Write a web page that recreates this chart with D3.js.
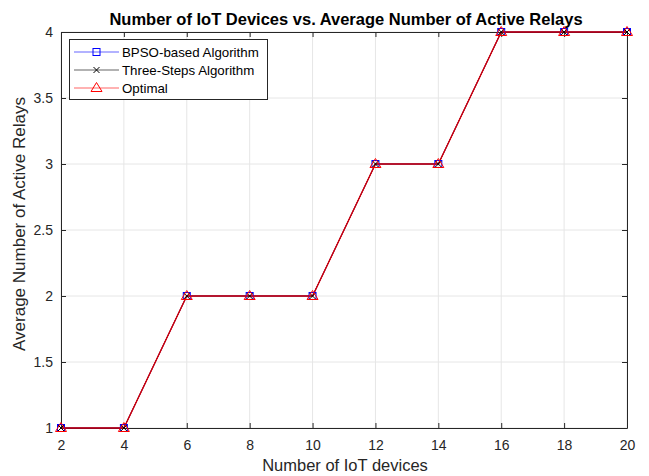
<!DOCTYPE html>
<html><head><meta charset="utf-8">
<script src="https://cdn.jsdelivr.net/npm/d3@7"></script>
<style>body{margin:0;background:#fff}svg{display:block}text{font-family:"Liberation Sans",Arial,sans-serif}</style>
</head><body><svg id="c" width="649" height="476"></svg>
<script>
const devices = [2,4,6,8,10,12,14,16,18,20];
const bpso = [1,1,2,2,2,3,3,4,4,4];
const threeSteps = [1,1,2,2,2,3,3,4,4,4];
const optimal = [1,1,2,2,2,3,3,4,4,4];
const xTicks = [2,4,6,8,10,12,14,16,18,20];
const yTicks = [1,1.5,2,2.5,3,3.5,4];
const seriesNames = ["BPSO-based Algorithm","Three-Steps Algorithm","Optimal"];

const svg = d3.select("#c");
const L=61,R=627,T=32,B=428;
const x = d3.scaleLinear().domain([2,20]).range([L,R]);
const y = d3.scaleLinear().domain([1,4]).range([B,T]);
svg.append("rect").attr("x",0).attr("y",0).attr("width",649).attr("height",476).attr("fill","#fff");
// grid
const g = svg.append("g");
g.selectAll(".gx").data(xTicks).enter().append("line")
 .attr("x1",d=>x(d)).attr("x2",d=>x(d)).attr("y1",T).attr("y2",B).attr("stroke","#e6e6e6");
g.selectAll(".gy").data(yTicks).enter().append("line")
 .attr("y1",d=>y(d)).attr("y2",d=>y(d)).attr("x1",L).attr("x2",R).attr("stroke","#e6e6e6");
// axes
const ax = svg.append("g").attr("transform",`translate(0,${B})`)
 .call(d3.axisBottom(x).tickValues(xTicks).tickSizeInner(-5).tickSizeOuter(0).tickPadding(12));
const ay = svg.append("g").attr("transform",`translate(${L},0)`)
 .call(d3.axisLeft(y).tickValues(yTicks).tickSizeInner(-5).tickSizeOuter(0).tickPadding(8).tickFormat(d3.format("")));
const axT = svg.append("g").attr("transform",`translate(0,${T})`)
 .call(d3.axisTop(x).tickValues(xTicks).tickSizeInner(-5).tickSizeOuter(0).tickFormat(""));
const ayR = svg.append("g").attr("transform",`translate(${R},0)`)
 .call(d3.axisRight(y).tickValues(yTicks).tickSizeInner(-5).tickSizeOuter(0).tickFormat(""));
[ax,ay,axT,ayR].forEach(a=>{
 a.select(".domain").attr("stroke","#262626");
 a.selectAll(".tick line").attr("stroke","#262626");
 a.selectAll("text").attr("fill","#262626").attr("font-size",14).attr("font-family","Liberation Sans, Arial, sans-serif");
});
ax.selectAll("text").attr("dy","0.71em");
// lines
const line = d3.line().x((d,i)=>x(devices[i])).y(d=>y(d));
const cols = ["#0000ff","#000000","#ff0000"];
const data = [bpso,threeSteps,optimal];
data.forEach((s,k)=>{
 svg.append("path").datum(s).attr("d",line).attr("fill","none").attr("stroke",cols[k])
  .attr("stroke-width",k==2?1.4:1).attr("opacity",k==2?0.82:1);
});
function marker(sel,k,cx,cy){
 if(k===0) sel.append("rect").attr("x",cx-3.5).attr("y",cy-3.5).attr("width",7).attr("height",7).attr("fill","none").attr("stroke","#0000ff");
 else if(k===1) sel.append("path").attr("d",`M${cx-3},${cy-3}L${cx+3},${cy+3}M${cx-3},${cy+3}L${cx+3},${cy-3}`).attr("stroke","#000").attr("fill","none");
 else sel.append("path").attr("d",`M${cx},${cy-5.5}L${cx+5.5},${cy+3.5}L${cx-5.5},${cy+3.5}Z`).attr("stroke","#ff0000").attr("fill","none");
}
data.forEach((s,k)=>{
 const mg = svg.append("g");
 s.forEach((v,i)=>marker(mg,k,x(devices[i]),y(v)));
});
// legend
const lg = svg.append("g");
lg.append("rect").attr("x",69.5).attr("y",39.5).attr("width",198).attr("height",60).attr("fill","#fff").attr("stroke","#262626");
seriesNames.forEach((n,k)=>{
 const yy = 52+k*18;
 lg.append("line").attr("x1",74).attr("x2",119).attr("y1",yy).attr("y2",yy).attr("stroke",cols[k]).attr("opacity",0.6);
 marker(lg,k,96.5,yy);
 lg.append("text").attr("x",122).attr("y",yy).attr("dy","0.35em").attr("font-size",13.3).attr("fill","#000").text(n);
});
// labels
svg.append("text").attr("x",(L+R)/2+2).attr("y",25).attr("text-anchor","middle").attr("font-weight","bold").attr("font-size",16.5).attr("fill","#000").text("Number of IoT Devices vs. Average Number of Active Relays");
svg.append("text").attr("x",(L+R)/2+1).attr("y",471).attr("text-anchor","middle").attr("font-size",16.5).attr("fill","#262626").text("Number of IoT devices");
svg.append("text").attr("transform",`translate(25,${(T+B)/2-6}) rotate(-90)`).attr("text-anchor","middle").attr("font-size",17).attr("fill","#262626").text("Average Number of Active Relays");
</script></body></html>
